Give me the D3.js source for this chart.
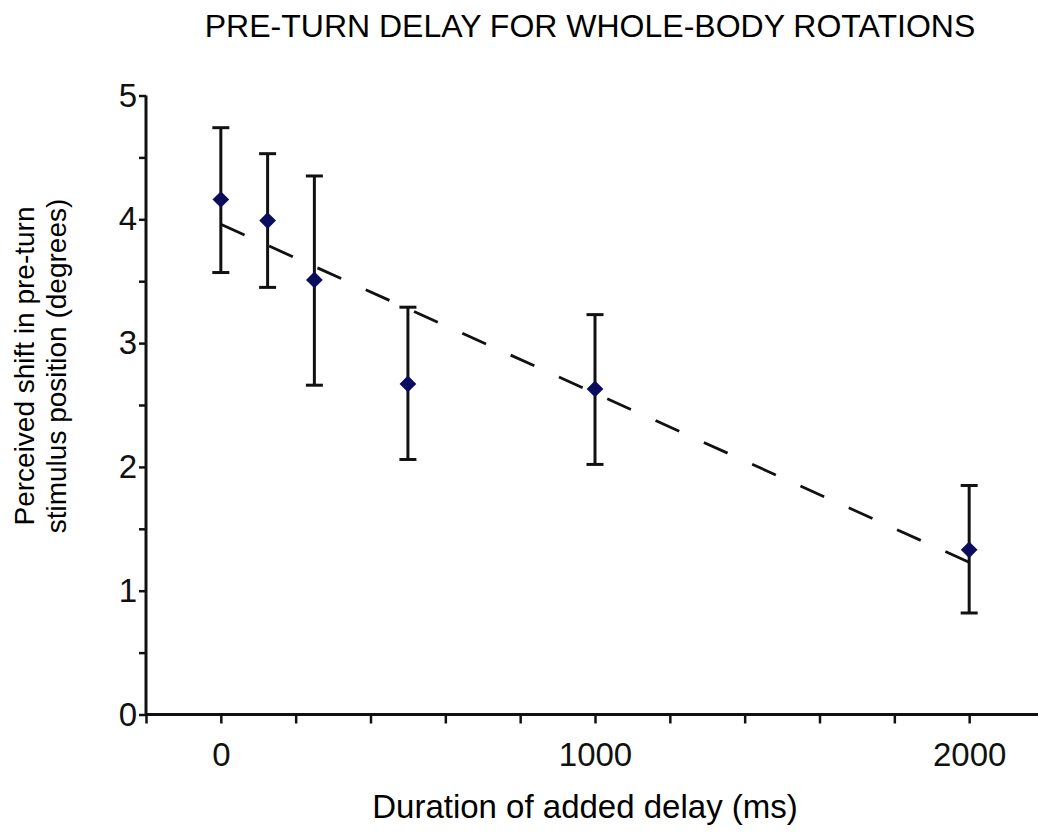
<!DOCTYPE html>
<html>
<head>
<meta charset="utf-8">
<script src="https://cdn.jsdelivr.net/npm/d3@7"></script>
<style>
  body { margin: 0; background: #fff; }
  svg { display: block; font-family: "Liberation Sans", Arial, sans-serif; }
</style>
</head>
<body>
<div id="chart"></div>
<script>
// data
const delays = [0, 125, 250, 500, 1000, 2000];
const shifts = [4.16, 3.99, 3.51, 2.67, 2.63, 1.33];
const errUpper = [4.74, 4.53, 4.35, 3.29, 3.23, 1.85];
const errLower = [3.57, 3.45, 2.66, 2.06, 2.02, 0.82];
// linear trend endpoints
const trendX = [0, 2000];
const trendY = [3.96, 1.23];

const xTicks = d3.range(-200, 2201, 200);
const xLabels = [0, 1000, 2000];
const yTicks = d3.range(0, 5.01, 0.5);
const yLabels = [0, 1, 2, 3, 4, 5];

const width = 1038, height = 833;

let svg = d3.select("#chart")
  .append("svg")
  .attr("width", width)
  .attr("height", height);

// scales
let x = d3.scaleLinear().domain([-200, 2200]).range([146, 1044]);
let y = d3.scaleLinear().domain([0, 5]).range([714.5, 95.5]);

// title
svg.append("text")
  .attr("x", 590)
  .attr("y", 37)
  .attr("text-anchor", "middle")
  .style("font-size", "32px")
  .text("PRE-TURN DELAY FOR WHOLE-BODY ROTATIONS");

// y axis
let yAxis = svg.append("g")
  .attr("transform", "translate(" + x(-200) + ",0)")
  .call(d3.axisLeft(y)
    .tickValues(yTicks)
    .tickSize(7)
    .tickPadding(2)
    .tickFormat(d => yLabels.includes(d) ? d : ""));

// x axis
let xAxis = svg.append("g")
  .attr("transform", "translate(0," + y(0) + ")")
  .call(d3.axisBottom(x)
    .tickValues(xTicks)
    .tickSize(9)
    .tickPadding(19)
    .tickFormat(d => xLabels.includes(d) ? d : ""));

[yAxis, xAxis].forEach(function(a) {
  a.select(".domain").attr("stroke", "#111").attr("stroke-width", 3);
  a.selectAll(".tick line").attr("stroke", "#111").attr("stroke-width", 2.5);
  a.selectAll(".tick text")
    .attr("fill", "#111")
    .style("font-size", "33px")
    .style("font-family", "'Liberation Sans', Arial, sans-serif");
});
// the domain of axisLeft/Bottom draws outer ticks too; keep it a plain line
yAxis.select(".domain").attr("d", "M0," + y(0) + "V" + y(5));
xAxis.select(".domain").attr("d", "M" + x(-200) + ",0H" + x(2200));

// axis labels
svg.append("text")
  .attr("x", 585)
  .attr("y", 818)
  .attr("text-anchor", "middle")
  .style("font-size", "33px")
  .text("Duration of added delay (ms)");

let yLab = svg.append("text")
  .attr("transform", "translate(0,366) rotate(-90)")
  .attr("text-anchor", "middle")
  .style("font-size", "28px");
yLab.append("tspan").attr("x", 0).attr("y", 34).text("Perceived shift in pre-turn");
yLab.append("tspan").attr("x", 0).attr("y", 66).text("stimulus position (degrees)");

// trend line
svg.append("line")
  .attr("x1", x(trendX[0]))
  .attr("y1", y(trendY[0]))
  .attr("x2", x(trendX[1]))
  .attr("y2", y(trendY[1]))
  .attr("stroke", "#111")
  .attr("stroke-width", 2.8)
  .attr("stroke-dasharray", "26,27");

// error bars
let bars = svg.append("g")
  .selectAll("g")
  .data(delays)
  .enter()
  .append("g")
  .attr("stroke", "#111")
  .attr("stroke-width", 3);

bars.append("line")
  .attr("x1", d => x(d))
  .attr("x2", d => x(d))
  .attr("y1", (d, i) => y(errUpper[i]))
  .attr("y2", (d, i) => y(errLower[i]));

bars.append("line")
  .attr("x1", d => x(d) - 8.5)
  .attr("x2", d => x(d) + 8.5)
  .attr("y1", (d, i) => y(errUpper[i]))
  .attr("y2", (d, i) => y(errUpper[i]));

bars.append("line")
  .attr("x1", d => x(d) - 8.5)
  .attr("x2", d => x(d) + 8.5)
  .attr("y1", (d, i) => y(errLower[i]))
  .attr("y2", (d, i) => y(errLower[i]));

// diamond markers
svg.append("g")
  .selectAll("path")
  .data(delays)
  .enter()
  .append("path")
  .attr("d", d3.symbol(d3.symbolSquare, 140))
  .attr("transform", (d, i) => "translate(" + x(d) + "," + y(shifts[i]) + ") rotate(45)")
  .attr("fill", "#0c0c5e");
</script>
</body>
</html>
